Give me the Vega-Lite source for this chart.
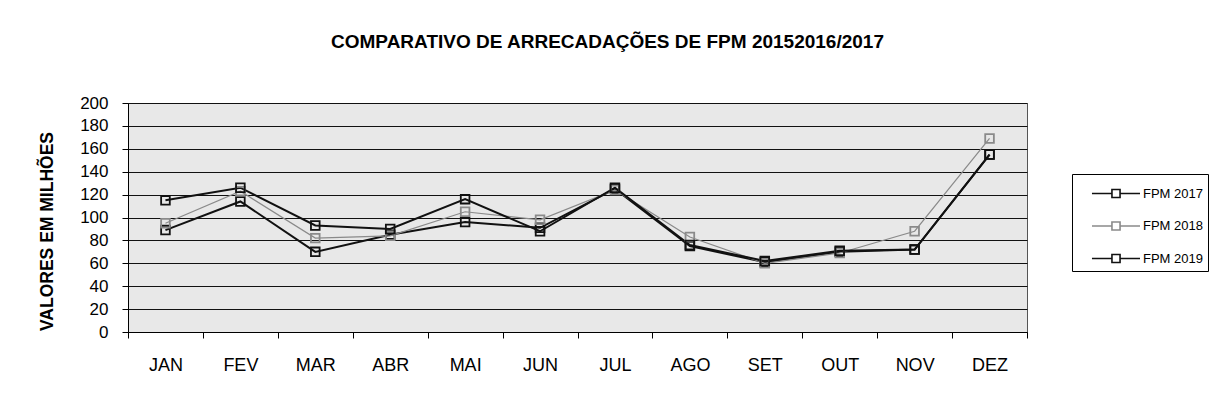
{
  "$schema": "https://vega.github.io/schema/vega-lite/v6.json",
  "autosize": "none",
  "width": 899,
  "height": 229,
  "padding": {"left": 128, "top": 103, "right": 186, "bottom": 76},
  "background": "white",
  "title": {
    "text": "COMPARATIVO DE ARRECADAÇÕES DE FPM 20152016/2017",
    "font": "Liberation Sans",
    "fontSize": 19,
    "fontWeight": "bold",
    "color": "black",
    "anchor": "middle",
    "dx": 30,
    "offset": 42
  },
  "config": {
    "font": "Liberation Sans",
    "view": {"fill": "#e8e8e8", "stroke": "#555555", "strokeWidth": 1},
    "axis": {
      "labelFont": "Liberation Sans",
      "labelColor": "black",
      "domainColor": "black",
      "tickColor": "black",
      "gridColor": "#111111",
      "gridWidth": 1
    }
  },
  "data": {
    "values": [
      {"mes": "JAN", "serie": "FPM 2017", "valor": 89},
      {"mes": "FEV", "serie": "FPM 2017", "valor": 114},
      {"mes": "MAR", "serie": "FPM 2017", "valor": 70},
      {"mes": "ABR", "serie": "FPM 2017", "valor": 85},
      {"mes": "MAI", "serie": "FPM 2017", "valor": 96},
      {"mes": "JUN", "serie": "FPM 2017", "valor": 91},
      {"mes": "JUL", "serie": "FPM 2017", "valor": 125},
      {"mes": "AGO", "serie": "FPM 2017", "valor": 75},
      {"mes": "SET", "serie": "FPM 2017", "valor": 61},
      {"mes": "OUT", "serie": "FPM 2017", "valor": 70},
      {"mes": "NOV", "serie": "FPM 2017", "valor": 72},
      {"mes": "DEZ", "serie": "FPM 2017", "valor": 155},
      {"mes": "JAN", "serie": "FPM 2018", "valor": 95},
      {"mes": "FEV", "serie": "FPM 2018", "valor": 123},
      {"mes": "MAR", "serie": "FPM 2018", "valor": 82},
      {"mes": "ABR", "serie": "FPM 2018", "valor": 84},
      {"mes": "MAI", "serie": "FPM 2018", "valor": 105},
      {"mes": "JUN", "serie": "FPM 2018", "valor": 98},
      {"mes": "JUL", "serie": "FPM 2018", "valor": 124},
      {"mes": "AGO", "serie": "FPM 2018", "valor": 83},
      {"mes": "SET", "serie": "FPM 2018", "valor": 60},
      {"mes": "OUT", "serie": "FPM 2018", "valor": 69},
      {"mes": "NOV", "serie": "FPM 2018", "valor": 88},
      {"mes": "DEZ", "serie": "FPM 2018", "valor": 169},
      {"mes": "JAN", "serie": "FPM 2019", "valor": 115},
      {"mes": "FEV", "serie": "FPM 2019", "valor": 126},
      {"mes": "MAR", "serie": "FPM 2019", "valor": 93},
      {"mes": "ABR", "serie": "FPM 2019", "valor": 90},
      {"mes": "MAI", "serie": "FPM 2019", "valor": 116},
      {"mes": "JUN", "serie": "FPM 2019", "valor": 88},
      {"mes": "JUL", "serie": "FPM 2019", "valor": 126},
      {"mes": "AGO", "serie": "FPM 2019", "valor": 76},
      {"mes": "SET", "serie": "FPM 2019", "valor": 62},
      {"mes": "OUT", "serie": "FPM 2019", "valor": 71},
      {"mes": "NOV", "serie": "FPM 2019", "valor": 72},
      {"mes": "DEZ", "serie": "FPM 2019", "valor": 155}
    ]
  },
  "encoding": {
    "x": {
      "field": "mes",
      "type": "nominal",
      "sort": ["JAN", "FEV", "MAR", "ABR", "MAI", "JUN", "JUL", "AGO", "SET", "OUT", "NOV", "DEZ"],
      "scale": {"type": "band", "paddingInner": 0, "paddingOuter": 0},
      "axis": {"title": null, "labelAngle": 0, "labelFontSize": 18, "tickBand": "extent", "tickSize": 6, "labelPadding": 18, "grid": false}
    },
    "y": {
      "field": "valor",
      "type": "quantitative",
      "scale": {"domain": [0, 200], "nice": false},
      "axis": {
        "title": "VALORES EM MILHÕES",
        "titleFont": "Liberation Sans",
        "titleFontSize": 17.5,
        "titleFontWeight": "bold",
        "titleColor": "black",
        "titlePadding": 23,
        "titleY": 128,
        "labelFontSize": 17,
        "values": [0, 20, 40, 60, 80, 100, 120, 140, 160, 180, 200],
        "tickSize": 6,
        "labelPadding": 14,
        "grid": true
      }
    },
    "color": {
      "field": "serie",
      "type": "nominal",
      "scale": {"domain": ["FPM 2017", "FPM 2018", "FPM 2019"], "range": ["#111111", "#8a8a8a", "#111111"]},
      "legend": {
        "title": null,
        "orient": "none",
        "legendX": 944,
        "legendY": 71,
        "strokeColor": "black",
        "padding": 5,
        "rowPadding": 10.5,
        "labelOffset": 12.5,
        "labelFont": "Liberation Sans",
        "labelFontSize": 13,
        "labelColor": "black",
        "symbolType": "M -1.78 0 L -0.3 0 L -0.3 -0.3 L 0.3 -0.3 L 0.3 0.3 L -0.3 0.3 L -0.3 0 M 0.3 0 L 1.78 0",
        "symbolSize": 729,
        "symbolStrokeWidth": 1.6,
        "symbolFillColor": "transparent",
        "symbolOffset": 24.5
      }
    }
  },
  "layer": [
    {
      "mark": {"type": "line"},
      "encoding": {
        "strokeWidth": {
          "condition": {"test": "datum.serie === 'FPM 2018'", "value": 1.2},
          "value": 2
        }
      }
    },
    {
      "mark": {"type": "point", "shape": "square", "filled": false, "size": 75, "strokeWidth": 1.8, "opacity": 1}
    }
  ]
}
